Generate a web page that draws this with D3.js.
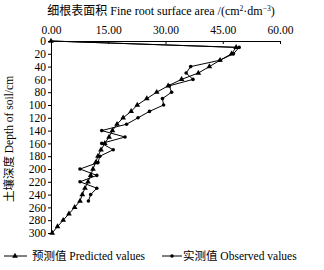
<!DOCTYPE html>
<html>
<head>
<meta charset="utf-8">
<script src="https://cdn.jsdelivr.net/npm/d3@7"></script>
<style>
  body { margin: 0; background: #fff; }
  svg { display: block; }
  text { font-family: "Liberation Serif", "Noto Sans CJK SC", serif; fill: #000; }
  .axis path, .axis line { stroke: #000; stroke-width: 1; }
</style>
</head>
<body>
<div id="chart"></div>
<script>
// depth of soil (cm)
var depthPred = [0,10,20,30,40,50,60,70,80,90,100,110,120,130,140,150,160,170,180,190,200,210,220,230,240,250,260,270,280,290,300];
var predicted = [0,48.5,47.3,44.3,41.5,38.6,34.2,30.7,27.7,25.1,22.6,21.0,18.9,17.3,16.1,15.2,14.1,13.1,12.3,11.7,11.0,10.4,9.7,8.9,8.2,7.6,6.2,4.7,3.2,1.7,0.3];
var depthObs = [0,10,20,30,40,50,60,70,80,90,100,110,120,130,140,150,160,170,180,190,200,210,220,230,240,250];
var observed = [0,49.3,47.8,44.3,36.6,35.4,37.2,31.0,31.6,29.2,29.5,25.8,22.8,19.8,13.3,19.4,13.3,16.3,12.8,12.3,7.6,12.0,7.6,12.0,10.4,9.8];
var xTicks = [0,15,30,45,60];
var yTicks = [0,20,40,60,80,100,120,140,160,180,200,220,240,260,280,300];

var W = 324, H = 270;

var svg = d3.select("#chart").append("svg")
  .attr("width", W)
  .attr("height", H);

var x = d3.scaleLinear().domain([0, 60]).range([51, 280]);
var y = d3.scaleLinear().domain([0, 300]).range([41, 233]);

// top axis
var xAxis = d3.axisTop(x)
  .tickValues(xTicks)
  .tickSizeInner(-3)
  .tickSizeOuter(0)
  .tickPadding(7)
  .tickFormat(d3.format(".2f"));

svg.append("g")
  .attr("class", "axis")
  .attr("transform", "translate(0," + y(0) + ")")
  .call(xAxis)
  .selectAll("text")
  .style("font-size", "11.5px");

var yAxis = d3.axisLeft(y)
  .tickValues(yTicks)
  .tickSizeInner(3)
  .tickSizeOuter(0)
  .tickPadding(2);

svg.append("g")
  .attr("class", "axis")
  .attr("transform", "translate(" + x(0) + ",0)")
  .call(yAxis)
  .selectAll("text")
  .style("font-size", "11.5px");

// title
var title = svg.append("text")
  .attr("x", 161)
  .attr("y", 15)
  .style("text-anchor", "middle")
  .style("font-size", "12px");
title.append("tspan").text("细根表面积  Fine root surface area /(cm");
title.append("tspan").attr("dy", -4).style("font-size", "7.5px").text("2");
title.append("tspan").attr("dy", 4).text("·dm");
title.append("tspan").attr("dy", -4).style("font-size", "7.5px").text("−3");
title.append("tspan").attr("dy", 4).text(")");

// y label
svg.append("text")
  .attr("transform", "translate(13,139) rotate(-90)")
  .style("text-anchor", "middle")
  .style("font-size", "11.5px")
  .text("土壤深度 Depth of soil/cm");

var line = d3.line()
  .x(function(d) { return x(d[0]); })
  .y(function(d) { return y(d[1]); });

var predData = predicted.map(function(v, i) { return [v, depthPred[i]]; });
var obsData = observed.map(function(v, i) { return [v, depthObs[i]]; });

svg.append("path")
  .attr("d", line(obsData))
  .attr("fill", "none")
  .attr("stroke", "#000")
  .attr("stroke-width", 1);

svg.append("path")
  .attr("d", line(predData))
  .attr("fill", "none")
  .attr("stroke", "#000")
  .attr("stroke-width", 1);

var tri = d3.symbol().type(d3.symbolTriangle).size(14);

svg.selectAll(".pred")
  .data(predData)
  .enter()
  .append("path")
  .attr("class", "pred")
  .attr("d", tri)
  .attr("transform", function(d) { return "translate(" + x(d[0]) + "," + y(d[1]) + ")"; })
  .attr("fill", "#000");

svg.selectAll(".obs")
  .data(obsData.slice(1))
  .enter()
  .append("circle")
  .attr("class", "obs")
  .attr("cx", function(d) { return x(d[0]); })
  .attr("cy", function(d) { return y(d[1]); })
  .attr("r", 1.8)
  .attr("fill", "#000");

// legend
var legY = 256;
var leg = svg.append("g");
leg.append("line").attr("x1", 4).attr("x2", 27).attr("y1", legY).attr("y2", legY).attr("stroke", "#000");
leg.append("path").attr("d", tri).attr("transform", "translate(15," + legY + ")");
leg.append("text").attr("x", 32).attr("y", legY + 4).style("font-size", "11.5px").text("预测值 Predicted values");

leg.append("line").attr("x1", 162).attr("x2", 182).attr("y1", legY).attr("y2", legY).attr("stroke", "#000");
leg.append("circle").attr("cx", 172).attr("cy", legY).attr("r", 1.8);
leg.append("text").attr("x", 183).attr("y", legY + 4).style("font-size", "11.5px").text("实测值 Observed values");
</script>
</body>
</html>
